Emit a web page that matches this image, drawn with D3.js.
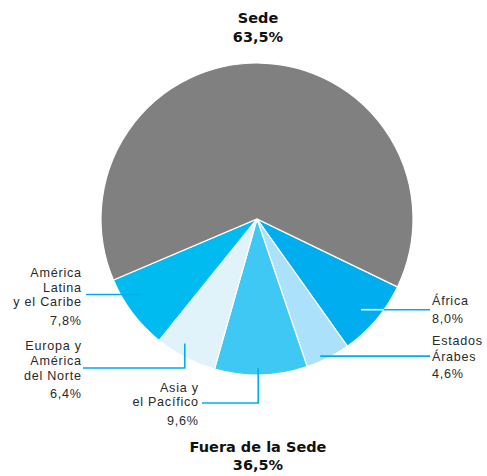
<!DOCTYPE html>
<html>
<head>
<meta charset="utf-8">
<script src="https://cdn.jsdelivr.net/npm/d3@7"></script>
<style>
  body { margin: 0; background: #fff; }
  svg { display: block; }
  .lbl { font-family: "Liberation Sans", Arial, sans-serif; font-size: 12.6px; fill: #2a2a2a; letter-spacing: 0.75px; }
  .big { font-family: "DejaVu Sans", sans-serif; font-size: 14.5px; font-weight: bold; fill: #111; }
</style>
</head>
<body>
<svg id="chart" width="487" height="476"></svg>
<script>
// data, clockwise from the lower right
const regions = ["África", "Estados Árabes", "Asia y el Pacífico", "Europa y América del Norte", "América Latina y el Caribe", "Sede"];
const shares = [8.0, 4.6, 9.6, 6.4, 7.8, 63.5];
const shareText = ["8,0%", "4,6%", "9,6%", "6,4%", "7,8%", "63,5%"];
const labelLines = [
    ["África"],
    ["Estados", "Árabes"],
    ["Asia y", "el Pacífico"],
    ["Europa y", "América", "del Norte"],
    ["América", "Latina", "y el Caribe"],
    ["Sede"]
];
const sliceColors = ["#00aeef", "#abe1fa", "#40c8f4", "#e0f3fb", "#00bbf0", "#808080"];
const totals = { outside: "36,5%", outsideTitle: "Fuera de la Sede" };

const svg = d3.select("#chart");
const cx = 257, cy = 219, R = 156;
const lineBlue = "#00aeef";

const startDeg = 115.8;
const pie = d3.pie()
    .sort(null)
    .value(d => d)
    .startAngle(startDeg * Math.PI / 180)
    .endAngle(startDeg * Math.PI / 180 + 2 * Math.PI);
const arcs = pie(shares);
const arc = d3.arc().innerRadius(0).outerRadius(R);

const g = svg.append("g").attr("transform", `translate(${cx},${cy})`);
g.selectAll("path")
    .data(arcs)
    .enter().append("path")
    .attr("d", arc)
    .attr("fill", (d, i) => sliceColors[i])
    .attr("stroke", "#fff")
    .attr("stroke-width", 1.2);

// leader layout: where in the slice the line starts, then where it goes
const leaders = [
    { t: 0.53, r: 138, route: "h", toX: 430, inner: "#fff", textX: 432, anchor: "start", ys: [305, 323] },
    { t: 0.64, r: 151, route: "h", toX: 430, inner: lineBlue, textX: 432, anchor: "start", ys: [345, 360.5, 378] },
    { t: 0.53, r: 149, route: "vh", elbowY: 403, toX: 202, inner: lineBlue, textX: 198, anchor: "end", ys: [391.5, 406, 425] },
    { t: 0.62, r: 144, route: "vh", elbowY: 368, toX: 83, inner: lineBlue, textX: 81, anchor: "end", ys: [350, 365, 379.5, 398] },
    { t: 0.65, r: 139, route: "h", toX: 86, inner: lineBlue, textX: 81, anchor: "end", ys: [277, 291.5, 306, 325] }
];

function pt(a, r) {
    return [cx + r * Math.sin(a), cy - r * Math.cos(a)];
}

leaders.forEach((L, i) => {
    const a = arcs[i].startAngle + L.t * (arcs[i].endAngle - arcs[i].startAngle);
    const p0 = pt(a, L.r);
    let pts;
    if (L.route === "h") {
        pts = [p0, [L.toX, p0[1]]];
    } else {
        pts = [p0, [p0[0], L.elbowY], [L.toX, L.elbowY]];
    }
    svg.append("path")
        .attr("d", d3.line()(pts))
        .attr("fill", "none")
        .attr("stroke", lineBlue)
        .attr("stroke-width", 1.6);

    if (L.inner !== lineBlue && L.route === "h") {
        // part of the line that runs over the slice itself
        const dy = p0[1] - cy;
        const edgeX = cx + Math.sign(L.toX - cx) * Math.sqrt(R * R - dy * dy);
        svg.append("line")
            .attr("x1", p0[0]).attr("y1", p0[1])
            .attr("x2", edgeX).attr("y2", p0[1])
            .attr("stroke", L.inner)
            .attr("stroke-width", 1.6);
    }

    const lines = labelLines[i].concat([shareText[i]]);
    const shift = L.anchor === "end" ? 0.75 : 0;
    lines.forEach((s, k) => {
        svg.append("text")
            .attr("class", "lbl")
            .attr("x", L.textX + shift)
            .attr("y", L.ys[k])
            .attr("text-anchor", L.anchor)
            .text(s);
    });
});

// headline labels
svg.append("text").attr("class", "big").attr("x", 258).attr("y", 23)
    .attr("text-anchor", "middle").text(labelLines[5][0]);
svg.append("text").attr("class", "big").attr("x", 258).attr("y", 42)
    .attr("text-anchor", "middle").text(shareText[5]);
svg.append("text").attr("class", "big").attr("x", 258).attr("y", 452)
    .attr("text-anchor", "middle").text(totals.outsideTitle);
svg.append("text").attr("class", "big").attr("x", 258).attr("y", 470)
    .attr("text-anchor", "middle").text(totals.outside);
</script>
</body>
</html>
